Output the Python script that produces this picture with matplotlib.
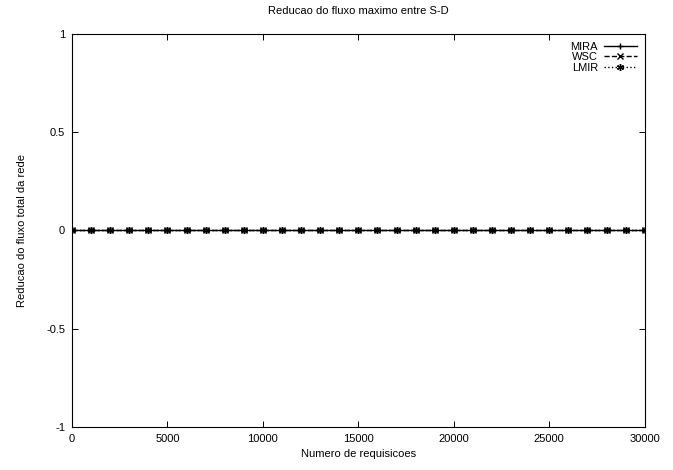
import matplotlib

matplotlib.use("Agg")
import matplotlib.pyplot as plt

# Numero de requisicoes (sample points) and reduction values per algorithm
requisicoes = [0, 1000, 2000, 3000, 4000, 5000, 6000, 7000, 8000, 9000, 10000,
               11000, 12000, 13000, 14000, 15000, 16000, 17000, 18000, 19000, 20000,
               21000, 22000, 23000, 24000, 25000, 26000, 27000, 28000, 29000, 30000]
mira = [0, 0, 0, 0, 0, 0, 0, 0, 0, 0, 0, 0, 0, 0, 0, 0,
        0, 0, 0, 0, 0, 0, 0, 0, 0, 0, 0, 0, 0, 0, 0]
wsc = [0, 0, 0, 0, 0, 0, 0, 0, 0, 0, 0, 0, 0, 0, 0, 0,
       0, 0, 0, 0, 0, 0, 0, 0, 0, 0, 0, 0, 0, 0, 0]
lmir = [0, 0, 0, 0, 0, 0, 0, 0, 0, 0, 0, 0, 0, 0, 0, 0,
        0, 0, 0, 0, 0, 0, 0, 0, 0, 0, 0, 0, 0, 0, 0]

x_ticks = [0, 5000, 10000, 15000, 20000, 25000, 30000]
y_ticks = [-1, -0.5, 0, 0.5, 1]
y_tick_labels = ["-1", "-0.5", "0", "0.5", "1"]

plt.rcParams["font.family"] = ["Liberation Sans", "DejaVu Sans"]

fig = plt.figure(figsize=(6.73, 4.70), dpi=100)
ax = fig.add_axes([0.107, 0.0915, 0.851, 0.8365])

ax.plot(requisicoes, mira, "-", color="black", lw=1.0, marker="+", ms=5, label="MIRA")
ax.plot(requisicoes, wsc, "--", color="black", lw=1.0, marker="x", ms=4, label="WSC")
ax.plot(requisicoes, lmir, ":", color="black", lw=1.0, marker=(6, 2, 0), ms=5, label="LMIR")

ax.set_xlim(0, 30000)
ax.set_ylim(-1, 1)
ax.set_xticks(x_ticks)
ax.set_xticklabels([str(t) for t in x_ticks])
ax.set_yticks(y_ticks)
ax.set_yticklabels(y_tick_labels)
ax.tick_params(direction="in", length=4, width=0.7, labelsize=8, top=True, right=True, pad=5)
for s in ax.spines.values():
    s.set_linewidth(0.8)

ax.set_title("Reducao do fluxo maximo entre S-D", fontsize=8, pad=14)
ax.set_xlabel("Numero de requisicoes", fontsize=8, labelpad=4)
ax.set_ylabel("Reducao do fluxo total da rede", fontsize=8, labelpad=14)

ax.legend(loc="upper right", frameon=False, markerfirst=False, fontsize=8,
          handlelength=3, labelspacing=0.05, borderaxespad=0.3, handletextpad=0.5)

fig.savefig("out.png", dpi=100)
